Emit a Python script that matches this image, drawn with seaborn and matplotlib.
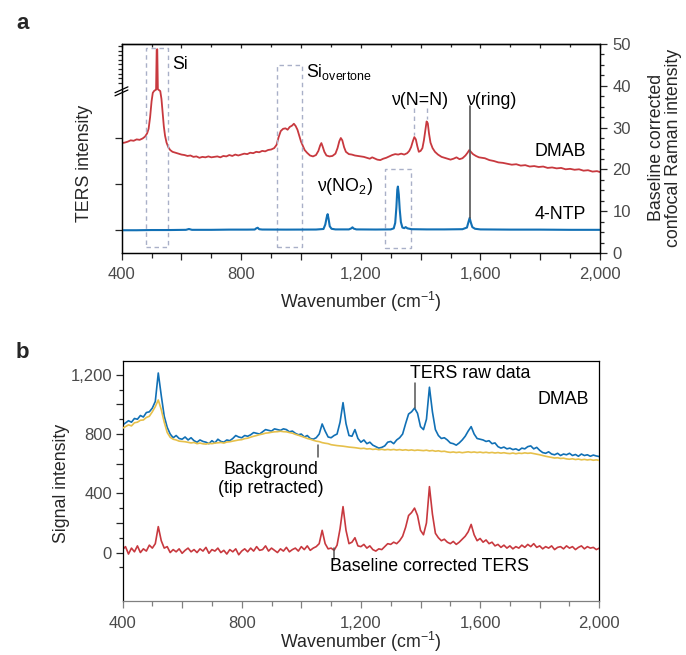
import numpy as np
import matplotlib
matplotlib.use("Agg")
import matplotlib.pyplot as plt
from matplotlib.ticker import MultipleLocator, FixedLocator, FuncFormatter, NullFormatter
from matplotlib.patches import Rectangle
import seaborn as sns

sns.set_theme(style="ticks")
plt.rcParams["font.family"] = ["Liberation Sans", "DejaVu Sans"]
plt.rcParams["mathtext.fontset"] = "custom"
plt.rcParams["mathtext.rm"] = "Liberation Sans"
plt.rcParams["mathtext.it"] = "Liberation Sans:italic"
plt.rcParams["mathtext.bf"] = "Liberation Sans:bold"
plt.rcParams["mathtext.default"] = "regular"
plt.rcParams["axes.linewidth"] = 0.9

# ---------------- panel a: TERS of DMAB (left axis) ----------------
dmab_wn = [400, 410, 420, 430, 440, 450, 460, 470, 478, 485,
           490, 495, 500, 504, 508, 512, 515, 517, 519, 521,
           525, 529, 533, 537, 541, 545, 550, 556, 562, 570,
           580, 590, 600, 610, 620, 630, 640, 650, 660, 670,
           680, 690, 700, 710, 720, 730, 740, 750, 760, 770,
           780, 790, 800, 810, 820, 830, 840, 850, 860, 870,
           880, 890, 900, 910, 918, 925, 932, 940, 948, 955,
           962, 970, 976, 982, 988, 994, 1000, 1006, 1012, 1020,
           1030, 1040, 1050, 1058, 1064, 1068, 1072, 1078, 1085, 1095,
           1105, 1115, 1122, 1128, 1133, 1138, 1144, 1150, 1160, 1170,
           1180, 1190, 1200, 1210, 1220, 1230, 1238, 1245, 1255, 1265,
           1275, 1285, 1295, 1305, 1315, 1325, 1335, 1345, 1355, 1362,
           1368, 1374, 1379, 1384, 1389, 1394, 1400, 1406, 1411, 1416,
           1420, 1424, 1428, 1433, 1440, 1448, 1458, 1470, 1480, 1490,
           1500, 1510, 1520, 1530, 1540, 1550, 1557, 1563, 1568, 1575,
           1585, 1595, 1605, 1615, 1630, 1645, 1660, 1675, 1690, 1705,
           1720, 1735, 1750, 1765, 1780, 1795, 1810, 1825, 1840, 1855,
           1870, 1885, 1900, 1915, 1930, 1945, 1960, 1975, 1990, 2000]
dmab_ters = [1.89, 1.90, 1.92, 1.95, 1.94, 1.97, 1.96, 1.99, 2.03, 2.10,
             2.20, 2.45, 2.80, 2.98, 3.02, 3.04, 3.05, 3.92, 3.93, 3.06,
             3.04, 3.02, 2.85, 2.55, 2.25, 2.05, 1.90, 1.80, 1.74, 1.70,
             1.68, 1.66, 1.64, 1.63, 1.61, 1.62, 1.59, 1.60, 1.57, 1.59,
             1.58, 1.60, 1.58, 1.59, 1.60, 1.58, 1.61, 1.60, 1.63, 1.61,
             1.64, 1.62, 1.64, 1.66, 1.65, 1.68, 1.67, 1.70, 1.69, 1.72,
             1.71, 1.74, 1.75, 1.78, 1.85, 2.02, 2.15, 2.20, 2.21, 2.18,
             2.24, 2.27, 2.31, 2.26, 2.18, 2.05, 1.92, 1.83, 1.74, 1.68,
             1.62, 1.60, 1.63, 1.72, 1.84, 1.89, 1.82, 1.70, 1.62, 1.60,
             1.61, 1.66, 1.78, 1.93, 2.00, 1.95, 1.80, 1.70, 1.65, 1.64,
             1.62, 1.61, 1.60, 1.59, 1.57, 1.55, 1.58, 1.56, 1.53, 1.52,
             1.55, 1.57, 1.60, 1.63, 1.65, 1.64, 1.66, 1.64, 1.67, 1.72,
             1.80, 1.93, 2.02, 1.97, 1.82, 1.70, 1.72, 1.78, 1.95, 2.18,
             2.36, 2.32, 2.10, 1.90, 1.78, 1.70, 1.64, 1.59, 1.57, 1.55,
             1.53, 1.55, 1.58, 1.54, 1.56, 1.62, 1.68, 1.74, 1.70, 1.65,
             1.61, 1.58, 1.57, 1.56, 1.52, 1.50, 1.47, 1.46, 1.44, 1.42,
             1.43, 1.40, 1.41, 1.38, 1.39, 1.37, 1.38, 1.35, 1.36, 1.34,
             1.35, 1.32, 1.33, 1.31, 1.32, 1.29, 1.30, 1.27, 1.28, 1.26]

# ---------------- panel a: confocal Raman of 4-NTP (right axis) ----------------
ntp_wn = [400, 450, 500, 560, 615, 625, 635, 700, 760, 820,
          845, 850, 855, 860, 870, 950, 1050, 1075, 1081, 1086,
          1089, 1092, 1096, 1102, 1115, 1160, 1168, 1172, 1176, 1185,
          1250, 1300, 1310, 1315, 1319, 1322, 1324, 1327, 1330, 1334,
          1339, 1345, 1350, 1356, 1370, 1420, 1480, 1540, 1555, 1560,
          1564, 1568, 1573, 1582, 1600, 1700, 1800, 1900, 2000]
ntp_raman = [5.45, 5.45, 5.50, 5.50, 5.55, 5.75, 5.55, 5.55, 5.60, 5.60,
             5.62, 5.90, 6.05, 5.70, 5.62, 5.60, 5.62, 5.75, 6.80, 8.60,
             9.30, 8.20, 6.40, 5.80, 5.65, 5.65, 5.90, 6.15, 5.85, 5.65,
             5.62, 5.65, 5.90, 7.20, 11.0, 15.2, 15.9, 14.0, 10.5, 7.40,
             6.10, 5.95, 6.20, 5.90, 5.70, 5.65, 5.65, 5.70, 6.10, 7.40,
             8.40, 7.30, 6.20, 5.80, 5.65, 5.60, 5.60, 5.55, 5.55]

# ---------------- panel b: TERS raw, background, baseline corrected ----------------
wn_b = np.arange(400, 2001, 10)
ters_raw = [861, 875, 890, 880, 905, 900, 925, 915, 945, 950,
            975, 1020, 1212, 1060, 920, 845, 800, 775, 790, 770,
            765, 780, 760, 775, 755, 745, 760, 750, 745, 735,
            755, 740, 765, 750, 745, 760, 755, 770, 790, 780,
            775, 790, 785, 795, 810, 805, 800, 815, 830, 825,
            820, 835, 830, 825, 835, 830, 815, 820, 805, 795,
            800, 780, 790, 770, 765, 775, 800, 868, 820, 780,
            775, 790, 800, 880, 1012, 870, 790, 785, 830, 770,
            745, 760, 735, 745, 725, 715, 705, 710, 720, 745,
            750, 735, 760, 775, 800, 870, 935, 950, 975, 940,
            850, 830, 900, 1116, 950, 830, 790, 770, 775, 760,
            740, 735, 725, 740, 760, 785, 820, 850, 800, 770,
            765, 760, 750, 755, 735, 740, 715, 705, 712, 700,
            705, 695, 700, 690, 705, 700, 715, 720, 700, 710,
            690, 675, 670, 680, 665, 660, 670, 655, 665, 660,
            670, 655, 662, 650, 665, 655, 660, 650, 658, 652,
            648]
background = [839, 850, 862, 855, 876, 880, 893, 895, 912, 920,
              950, 985, 1030, 965, 880, 810, 778, 765, 760, 752,
              750, 748, 744, 740, 743, 735, 739, 734, 732, 737,
              735, 739, 741, 743, 739, 746, 748, 752, 756, 760,
              762, 769, 772, 779, 785, 790, 796, 800, 806, 808,
              812, 815, 816, 819, 816, 815, 810, 806, 798, 792,
              785, 778, 770, 765, 758, 752, 749, 742, 738, 735,
              728, 725, 722, 720, 718, 715, 712, 710, 708, 705,
              702, 704, 699, 701, 696, 699, 694, 697, 693, 696,
              693, 696, 692, 695, 691, 694, 690, 693, 689, 692,
              690, 688, 691, 686, 689, 684, 687, 682, 684, 679,
              676, 679, 675, 678, 674, 677, 680, 676, 679, 675,
              678, 674, 677, 673, 676, 672, 675, 671, 674, 670,
              668, 672, 667, 671, 669, 673, 670, 672, 668, 664,
              660, 655, 650, 646, 642, 638, 640, 635, 637, 632,
              630, 633, 628, 631, 626, 629, 625, 628, 623, 626,
              622]
ters_corrected = [20, 40, -10, 30, 5, 45, 0, 25, 10, 50,
                  30, 60, 175, 80, 30, 40, 0, 20, 5, 25,
                  -5, 15, 30, 5, 20, 0, 25, 10, 35, -5,
                  20, 10, 30, 0, 15, -10, 20, 5, 25, -15,
                  10, 25, 5, 30, 10, 40, 15, 20, 45, 10,
                  30, 15, 0, 25, 10, 35, 5, 20, 30, 10,
                  40, 20, 45, 15, 30, 40, 60, 150, 60, 25,
                  30, 15, 50, 160, 310, 150, 60, 70, 100, 45,
                  40, 55, 30, 45, 20, 10, 25, 20, 40, 60,
                  55, 70, 60, 80, 110, 170, 250, 270, 300, 250,
                  150, 120, 200, 445, 260, 130, 100, 80, 90, 70,
                  60, 75, 55, 70, 90, 110, 140, 190, 120, 80,
                  95, 70, 85, 60, 70, 45, 55, 35, 50, 30,
                  45, 25, 40, 30, 50, 35, 55, 40, 60, 35,
                  45, 25, 40, 30, 45, 20, 35, 40, 25, 45,
                  30, 40, 20, 35, 45, 25, 40, 30, 35, 20,
                  30]

RED = "#c8393f"
BLUE = "#1170b5"
YELLOW = "#e6c04b"
BOX = "#a9b0c8"
TICKTXT = "#4a4a4a"
FS = 12.8      # labels and annotations
TFS = 12       # tick labels


def wn_fmt(v, pos):
    return f"{int(round(v)):,}" if round(v) % 400 == 0 else ""


fig = plt.figure(figsize=(6.86, 6.55), dpi=100)

# ======================= panel a =======================
ax = fig.add_axes([0.1774, 0.6137, 0.6972, 0.3191])
sns.lineplot(x=dmab_wn, y=dmab_ters, ax=ax, color=RED, lw=1.3,
             estimator=None, sort=False)
ax.set_xlim(400, 2000)
ax.set_ylim(-0.5, 4.043)

ax2 = ax.twinx()
sns.lineplot(x=ntp_wn, y=ntp_raman, ax=ax2, color=BLUE, lw=1.5,
             estimator=None, sort=False)
ax2.set_ylim(0, 50)
ax2.set_xlim(400, 2000)

ax.xaxis.set_major_locator(MultipleLocator(200))
ax.xaxis.set_minor_locator(MultipleLocator(100))
ax.xaxis.set_major_formatter(FuncFormatter(wn_fmt))
ax.tick_params(axis="x", which="major", direction="out", length=5, width=0.9,
               pad=5, labelsize=TFS, labelcolor=TICKTXT)
ax.tick_params(axis="x", which="minor", direction="out", length=3.5, width=0.9)

ax.yaxis.set_major_locator(FixedLocator([0, 1, 2]))
ax.yaxis.set_major_formatter(NullFormatter())
ax.yaxis.set_minor_locator(FixedLocator([3.2, 3.3, 3.4, 3.5, 3.6, 3.7, 3.8, 3.9, 4.0]))
ax.tick_params(axis="y", which="major", direction="out", length=5, width=0.9)
ax.tick_params(axis="y", which="minor", direction="out", length=3, width=0.9)

ax2.yaxis.set_major_locator(MultipleLocator(10))
ax2.yaxis.set_minor_locator(MultipleLocator(2.5))
ax2.tick_params(axis="y", which="major", direction="out", length=5, width=0.9,
                pad=4, labelsize=TFS, labelcolor=TICKTXT)
ax2.tick_params(axis="y", which="minor", direction="out", length=3, width=0.9)

top = ax.secondary_xaxis("top")
top.xaxis.set_major_locator(MultipleLocator(200))
top.xaxis.set_minor_locator(MultipleLocator(100))
top.xaxis.set_major_formatter(NullFormatter())
top.tick_params(axis="x", which="major", direction="in", length=3, width=0.9, labeltop=False)
top.tick_params(axis="x", which="minor", direction="in", length=2, width=0.9)

for s in ax.spines.values():
    s.set_color("black")
for s in ax2.spines.values():
    s.set_color("black")

# axis break on the left axis
for off in (0.0, 0.015):
    ax.plot([-0.014, 0.013], [0.752 + off, 0.780 + off], transform=ax.transAxes,
            color="black", lw=0.9, clip_on=False)

ax.set_xlabel("Wavenumber (cm$^{-1}$)", fontsize=FS)
ax.xaxis.label.set_va("center")
ax.xaxis.set_label_coords(0.5, -0.234)
ax.set_ylabel("TERS intensity", fontsize=FS)
ax.yaxis.label.set_va("center")
ax.yaxis.set_label_coords(-0.078, 0.431)
ax2.set_ylabel("Baseline corrected\nconfocal Raman intensity", fontsize=FS, linespacing=1.0)
ax2.yaxis.label.set_va("center")
ax2.yaxis.set_label_coords(1.135, 0.505)

# dashed boxes marking bands
dash = (0, (3.2, 2.6))
for x0, x1, y0, y1 in [(482, 555, 1.36, 49.1), (919, 1003, 1.4, 45.0), (1280, 1367, 1.1, 20.0)]:
    ax2.add_patch(Rectangle((x0, y0), x1 - x0, y1 - y0, fill=False, ec=BOX,
                            lw=1.0, ls=dash, zorder=1))

# leader lines for the azo and ring bands
nn_pos = [1379, 1420]
for xp in nn_pos:
    top_val = max(v for w, v in zip(dmab_wn, dmab_ters) if abs(w - xp) <= 5)
    y_peak = (top_val + 0.5) / 4.543 * 50
    ax2.plot([xp, xp], [34.7, y_peak + 0.6], color=BOX, lw=1.0, ls=dash)
ring_pos = 1564
ring_peak = ntp_raman[ntp_wn.index(ring_pos)]
ax2.plot([ring_pos, ring_pos], [35.2, ring_peak], color="#555555", lw=1.2)

tk = dict(fontsize=FS, color="black")
ax2.text(570, 45.0, "Si", ha="left", va="center", **tk)
ax2.text(1017, 42.2, "Si$_{overtone}$", ha="left", va="baseline", **tk)
ax2.text(1397, 36.6, "ν(N=N)", ha="center", va="center", **tk)
ax2.text(1635, 36.6, "ν(ring)", ha="center", va="center", **tk)
ax2.text(1146, 14.8, "ν(NO$_2$)", ha="center", va="baseline", **tk)
ax2.text(1954, 24.2, "DMAB", ha="right", va="center", **tk)
ax2.text(1954, 9.1, "4-NTP", ha="right", va="center", **tk)

# ======================= panel b =======================
bx = fig.add_axes([0.1786, 0.0829, 0.6950, 0.3664])
sns.lineplot(x=wn_b, y=ters_raw, ax=bx, color=BLUE, lw=1.2, estimator=None, zorder=2)
sns.lineplot(x=wn_b, y=background, ax=bx, color=YELLOW, lw=1.2, estimator=None, zorder=3)
sns.lineplot(x=wn_b, y=ters_corrected, ax=bx, color=RED, lw=1.2, estimator=None, zorder=2)
bx.set_xlim(400, 2000)
bx.set_ylim(-325, 1295)

bx.xaxis.set_major_locator(MultipleLocator(200))
bx.xaxis.set_minor_locator(MultipleLocator(100))
bx.xaxis.set_major_formatter(FuncFormatter(wn_fmt))
bx.tick_params(axis="x", which="major", direction="out", length=5, width=0.9,
               pad=6, labelsize=TFS, labelcolor=TICKTXT, color="#808080")
bx.tick_params(axis="x", which="minor", direction="out", length=3.5, width=0.9,
               color="#808080")

bx.yaxis.set_major_locator(FixedLocator([0, 200, 400, 600, 800, 1000, 1200]))
bx.yaxis.set_minor_locator(FixedLocator([-100, 100, 300, 500, 700, 900, 1100]))
bx.yaxis.set_major_formatter(FuncFormatter(wn_fmt))
bx.tick_params(axis="y", which="major", direction="out", length=5, width=0.9,
               pad=2.5, labelsize=TFS, labelcolor=TICKTXT)
bx.tick_params(axis="y", which="minor", direction="out", length=3, width=0.9)
for name, s in bx.spines.items():
    s.set_visible(True)
    s.set_color("black")
bx.spines["bottom"].set_color("#808080")

bx.set_xlabel("Wavenumber (cm$^{-1}$)", fontsize=FS)
bx.xaxis.label.set_va("center")
bx.xaxis.set_label_coords(0.5, -0.172)
bx.set_ylabel("Signal intensity", fontsize=FS)
bx.yaxis.label.set_va("center")
bx.yaxis.set_label_coords(-0.128, 0.49)

raw_at = dict(zip(wn_b.tolist(), ters_raw))
bg_at = dict(zip(wn_b.tolist(), background))
cor_at = dict(zip(wn_b.tolist(), ters_corrected))

bx.text(1366, 1210, "TERS raw data", ha="left", va="center", **tk)
bx.plot([1380, 1380], [1145, raw_at[1380]], color="#555555", lw=1.1)
bx.text(1964, 1030, "DMAB", ha="right", va="center", **tk)
bx.text(898, 497, "Background\n(tip retracted)", ha="center", va="center",
        linespacing=1.15, **tk)
bx.plot([1057, 1057], [bg_at[1060] - 22, 648], color="#555555", lw=1.1)
bx.text(1096, -94, "Baseline corrected TERS", ha="left", va="center", **tk)
bx.plot([1110, 1110], [cor_at[1110] + 17, -49], color="#555555", lw=1.1)

# panel letters
fig.text(16 / 686, 1 - 29 / 655, "a", fontsize=16, fontweight="bold", ha="left", va="baseline")
fig.text(16 / 686, 1 - 358 / 655, "b", fontsize=16, fontweight="bold", ha="left", va="baseline")

fig.savefig("out.png", dpi=100)
